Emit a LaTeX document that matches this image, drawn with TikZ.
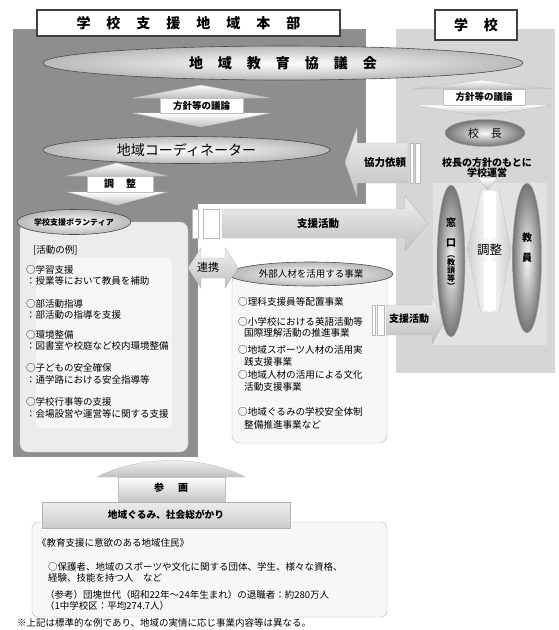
\documentclass[tikz,border=0pt]{standalone}
\usepackage{fontspec}
\setmainfont{Noto Sans CJK JP}
\usetikzlibrary{shapes.geometric}
\definecolor{panelD}{RGB}{142,142,142}
\definecolor{panelL}{RGB}{214,214,214}
\newcommand\fsz[1]{\fontsize{#1}{#1}\selectfont}
\newcommand\tline[5]{\node[#1] (#2) at (#3,#4) {#5};}
\begin{document}
\begin{tikzpicture}[x=1pt,y=-1pt,
  hdr/.style={draw=black!75,line width=1.3pt,fill=white,inner sep=0,font=\bfseries\fsz{14}},
  ellA/.style={ellipse,draw=black!70,line width=0.6pt,inner color=white,outer color=gray!55,inner sep=0},
  ellB/.style={ellipse,draw=gray!70,line width=0.5pt,inner color=gray!5,outer color=black!55,inner sep=0},
  varr/.style={draw=gray!50,line width=0.4pt,top color=white,bottom color=gray!50},
  harr/.style={draw=gray!55,line width=0.4pt,top color=gray!12,bottom color=gray!50},
  tailbar/.style={draw=gray!55,line width=0.4pt,fill=white},
  lblbox/.style={draw=gray!50,fill=white,inner sep=0,font=\bfseries\fsz{9.5}},
  lbl/.style={inner sep=0,font=\bfseries\fsz{10.5}},
  lst/.style={inner sep=0,anchor=base west,font=\fsz{9.5}},
  lstE/.style={inner sep=0,anchor=base west,font=\fsz{9.6}},
  lstB/.style={inner sep=0,anchor=base west,font=\fsz{9.5}},
  vtxt/.style={inner sep=0,font=\bfseries\fsz{10}}
]
\useasboundingbox (0,0) rectangle (559,630);
\fill[white] (0,0) rectangle (559,630);

% panels
\fill[panelD] (13,29) rectangle (366,457);
\fill[white] (198,204) rectangle (367,458);
\fill[panelL] (396,29) rectangle (555,373);
\fill[white,opacity=0.3] (433,183) rectangle (547,345);

% headers
\node[hdr,minimum width=303,minimum height=26] (hq) at (188.5,23)
  {学\hspace{16pt}校\hspace{16pt}支\hspace{16pt}援\hspace{16pt}地\hspace{16pt}域\hspace{16pt}本\hspace{16pt}部};
\node[hdr,minimum width=82,minimum height=30] (school) at (476,25) {学\hspace{16pt}校};

% council
\node[ellA,minimum width=480,minimum height=34,font=\bfseries\fsz{14}] (council) at (283,63)
  {地\hspace{15pt}域\hspace{15pt}教\hspace{15pt}育\hspace{15pt}協\hspace{15pt}議\hspace{15pt}会};

% left policy arrow
\path[varr] (201,85) -- (270,98) -- (133,98) -- cycle;
\path[varr] (133,113) -- (270,113) -- (201,127) -- cycle;
\node[lblbox,minimum width=83,minimum height=15] (pol1) at (201.5,105.5) {方針等の議論};

% right policy arrow
\path[varr] (482,80) -- (552,89) -- (413,89) -- cycle;
\path[varr] (413,105) -- (552,105) -- (482,116) -- cycle;
\node[lblbox,minimum width=82,minimum height=16] (pol2) at (484,97) {方針等の議論};

% coordinator
\node[ellA,minimum width=287,minimum height=27,font=\fsz{14}] (coord) at (186.5,150) {地域コーディネーター};

% adjust arrow (left)
\path[varr] (117,163) -- (167,176) -- (67,176) -- cycle;
\path[varr] (67,192) -- (167,192) -- (117,205) -- cycle;
\node[lblbox,minimum width=66,minimum height=16,font=\bfseries\fsz{10}] (adj1) at (120,184) {調\hspace{12pt}整};

% volunteer cylinder
\draw[rounded corners=8,fill=gray!15,draw=gray!45] (20,222) rectangle (188,452);
\fill[white,opacity=0.55,rounded corners=6] (36,258) rectangle (172,428);
\node[ellA,minimum width=114,minimum height=25,font=\bfseries\fsz{8}] (vol) at (74,222) {学校支援ボランティア};
\tline{lst}{v0}{33}{253.6}{[活動の例]}
\tline{lst}{v1a}{26}{273.6}{○学習支援}
\tline{lst}{v1b}{26}{284.6}{：授業等において教員を補助}
\tline{lst}{v2a}{26}{307.6}{○部活動指導}
\tline{lst}{v2b}{26}{318.6}{：部活動の指導を支援}
\tline{lst}{v3a}{26}{338.6}{○環境整備}
\tline{lst}{v3b}{26}{349.6}{：図書室や校庭など校内環境整備}
\tline{lst}{v4a}{26}{371.6}{○子どもの安全確保}
\tline{lst}{v4b}{26}{383.6}{：通学路における安全指導等}
\tline{lst}{v5a}{26}{405.6}{○学校行事等の支援}
\tline{lst}{v5b}{26}{417.6}{：会場設営や運営等に関する支援}

% big support arrow
\path[harr] (222,209) -- (405,209) -- (405,196) -- (428,223.5) -- (405,251) -- (405,238) -- (222,238) -- cycle;
\path[tailbar] (192,209) rectangle (198,238);
\path[tailbar] (203,209) rectangle (219,238);
\node[lbl] (sup1) at (318,223.5) {支援活動};

% cooperation request arrow
\path[harr] (345,162) -- (357,128) -- (357,143) -- (408,143) -- (408,183) -- (357,183) -- (357,197) -- cycle;
\path[tailbar] (410,143) rectangle (413,183);
\path[tailbar] (415,143) rectangle (420,183);
\node[lbl] (req) at (385,163) {協力依頼};

% external cylinder
\draw[rounded corners=8,fill=gray!6,draw=gray!55] (232,274) rectangle (387,443);
\node[ellA,minimum width=164,minimum height=24,font=\fsz{9.5}] (ext) at (311,274) {外部人材を活用する事業};
\tline{lstE}{e1}{238}{305.8}{○理科支援員等配置事業}
\tline{lstE}{e2a}{238}{325.8}{○小学校における英語活動等}
\tline{lstE}{e2b}{244}{336.8}{国際理解活動の推進事業}
\tline{lstE}{e3a}{238}{353.8}{○地域スポーツ人材の活用実}
\tline{lstE}{e3b}{244}{365.8}{践支援事業}
\tline{lstE}{e4a}{238}{378.8}{○地域人材の活用による文化}
\tline{lstE}{e4b}{244}{390.8}{活動支援事業}
\tline{lstE}{e5a}{238}{415.8}{○地域ぐるみの学校安全体制}
\tline{lstE}{e5b}{244}{428.8}{整備推進事業など}

% link arrow
\path[harr] (188,268) -- (201,248) -- (201,258) -- (225,258) -- (225,248) -- (238,268) -- (225,288) -- (225,278) -- (201,278) -- (201,288) -- cycle;
\node[inner sep=0,font=\fsz{11}] (link) at (208,267) {連携};

% small support arrow
\path[harr] (386,305) -- (432,305) -- (432,296) -- (445,320) -- (432,344) -- (432,335) -- (386,335) -- cycle;
\path[tailbar] (372,305) rectangle (375,335);
\path[tailbar] (377,305) rectangle (384,335);
\node[lbl,font=\bfseries\fsz{10}] (sup2) at (409,319) {支援活動};

% school side
\node[ellB,minimum width=80,minimum height=27,font=\fsz{11}] (principal) at (485,133) {校\hspace{12pt}長};
\node[align=center,font=\bfseries\fsz{10},inner sep=0] (policy) at (487,168) {校長の方針のもとに\\学校運営};
\path[varr] (478,178) -- (497,178) -- (487.5,190) -- cycle;
\path[draw=gray!45,left color=gray!40,right color=gray!40,middle color=white] (467,250) -- (481,190) -- (499,190) -- (511,250) -- (499,312) -- (481,312) -- cycle;
\fill[white] (484,192) rectangle (496,238);
\fill[white] (484,262) rectangle (496,310);
\node[inner sep=0,font=\fsz{12.5}] (adj2) at (489.5,250) {調整};

\node[ellB,minimum width=28,minimum height=152] (window) at (451,261) {};
\node[vtxt] (wA) at (451,223) {窓};
\node[vtxt] (wB) at (451,243) {口};
\node[align=center,inner sep=0,font=\bfseries\fsz{8}] (wC) at (451,273) {︵\\教\\頭\\等\\︶};
\node[ellB,minimum width=29,minimum height=150] (teacher) at (527,258) {};
\node[vtxt] (tA) at (527,238) {教};
\node[vtxt] (tB) at (527,258) {員};

% participation arrow
\path[varr] (97,477) .. controls (140,455) and (202,455) .. (245,477) -- cycle;
\path[varr] (118,477) rectangle (225,503);
\node[inner sep=0,font=\bfseries\fsz{10}] (part) at (171,488) {参\hspace{14pt}画};

% bottom box
\draw[rounded corners=6,fill=gray!6,draw=gray!55] (32,522) rectangle (387,617);
\node[draw=gray!60,top color=gray!15,bottom color=gray!40,minimum width=248,minimum height=26,inner sep=0,font=\bfseries\fsz{9.7}] (whole) at (166,515) {地域ぐるみ、社会総がかり};
\tline{lstB}{b0}{37}{546.4}{《教育支援に意欲のある地域住民》}
\tline{lstB}{b1}{48}{570.6}{○保護者、地域のスポーツや文化に関する団体、学生、様々な資格、}
\tline{lstB}{b2}{48}{581.6}{経験、技能を持つ人　など}
\tline{lstB}{b3}{45}{598.6}{（参考）団塊世代（昭和22年～24年生まれ）の退職者：約280万人}
\tline{lstB}{b4}{45}{609.6}{（1中学校区：平均274.7人）}
\tline{lstB}{fn}{17}{626.6}{※上記は標準的な例であり、地域の実情に応じ事業内容等は異なる。}
\end{tikzpicture}
\end{document}
